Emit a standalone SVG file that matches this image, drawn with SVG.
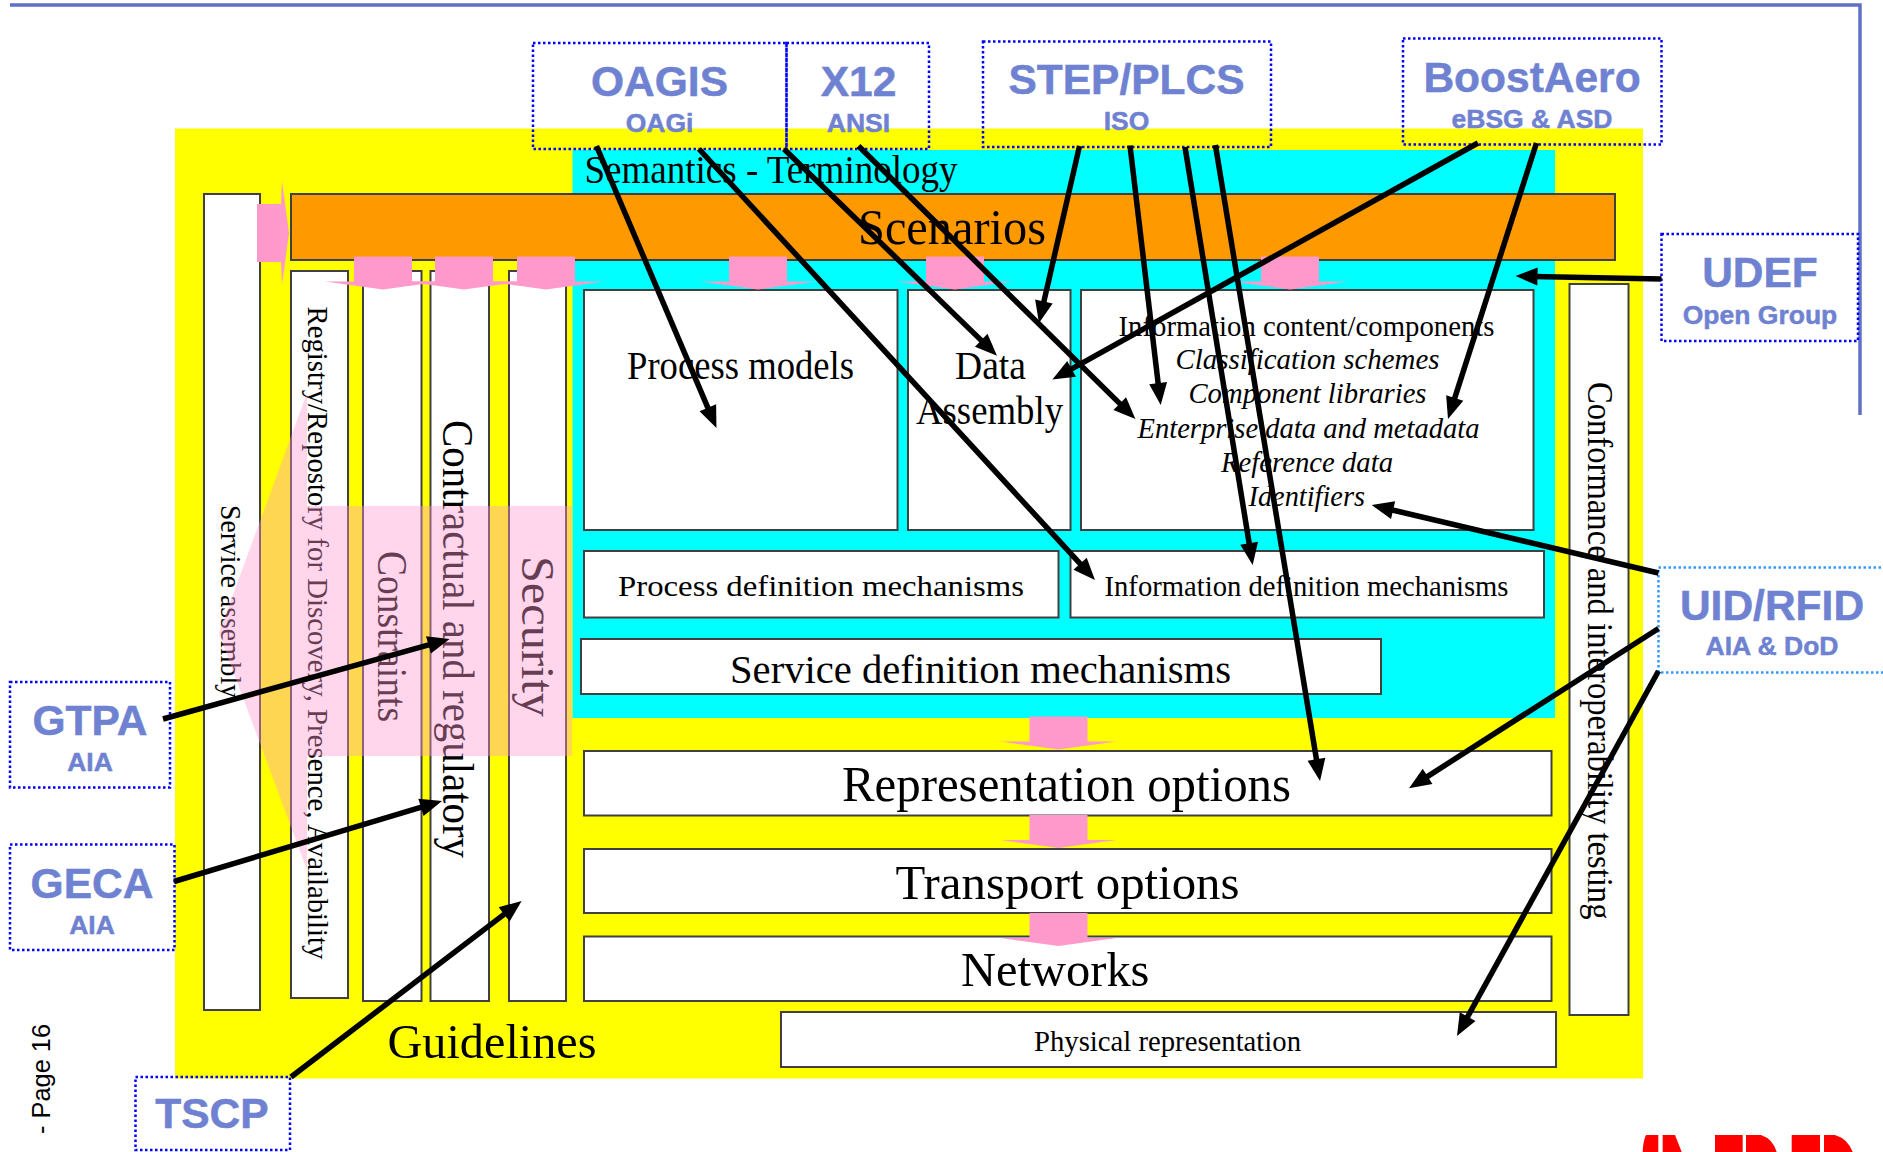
<svg xmlns="http://www.w3.org/2000/svg" width="1883" height="1152" viewBox="0 0 1883 1152">
<style>
text{font-family:"Liberation Serif","Times New Roman",serif;fill:#000}
.box{fill:#fff;stroke:#404040;stroke-width:2}
.lab rect{fill:none;stroke:#0000ff;stroke-width:2.5;stroke-dasharray:2.5 2.5}
.lab text{font-family:"Liberation Sans",Arial,sans-serif;font-weight:700;fill:#6f82d2;stroke:#6f82d2;stroke-width:.5;text-anchor:middle}
.big{font-size:42.500px}
.sub{font-size:26.500px}
.it{font-size:30px;font-style:italic}
.pink{fill:#ff99cc}
#connectors line{stroke:#000;stroke-width:5.500;marker-end:url(#ah)}
</style>
<defs>
<marker id="ah" markerUnits="userSpaceOnUse" markerWidth="26" markerHeight="22" refX="4" refY="10" orient="auto" overflow="visible"><path d="M0,1 L22,10 L0,19 Z" fill="#000"/></marker>
<polygon id="down" class="pink" points="-29,-33 29,-33 29,-8 58,-8 0,0 -58,-8 -29,-8"/>
</defs>
<rect width="1883" height="1152" fill="#fff"/>
<path id="frame" d="M10,5 H1860 V415" fill="none" stroke="#6070c4" stroke-width="3.500"/>
<rect id="guidelines-bg" x="175" y="128.500" width="1468" height="950" fill="#ffff00"/>
<rect id="semantics-bg" x="572.500" y="150" width="982.500" height="568" fill="#00ffff"/>

<g id="service-assembly"><rect class="box" x="204" y="194" width="56" height="816"/><text transform="translate(221,505) rotate(90)" font-size="29" textLength="193" lengthAdjust="spacingAndGlyphs">Service assembly</text></g>
<g id="scenarios"><rect x="291" y="194" width="1324" height="66" fill="#ff9900" stroke="#404040" stroke-width="2"/><text x="858" y="243.500" font-size="50" textLength="188" lengthAdjust="spacingAndGlyphs">Scenarios</text></g>
<g id="registry"><rect class="box" x="291" y="271" width="57" height="727"/><text transform="translate(308,306.500) rotate(90)" font-size="30" textLength="653" lengthAdjust="spacingAndGlyphs">Registry/Repostory for Discovery, Presence, Availability</text></g>
<g id="constraints"><rect class="box" x="363" y="271" width="58.500" height="730"/><text transform="translate(378,551) rotate(90)" font-size="42" textLength="171" lengthAdjust="spacingAndGlyphs">Constraints</text></g>
<g id="contractual"><rect class="box" x="430.500" y="271" width="58.500" height="730"/><text transform="translate(443,420) rotate(90)" font-size="44" textLength="438" lengthAdjust="spacingAndGlyphs">Contractual and regulatory</text></g>
<g id="security"><rect class="box" x="509" y="271" width="57" height="730"/><text transform="translate(522,556) rotate(90)" font-size="47" textLength="161" lengthAdjust="spacingAndGlyphs">Security</text></g>
<g id="semantics"><text x="584.500" y="183" font-size="39" textLength="373" lengthAdjust="spacingAndGlyphs">Semantics - Terminology</text></g>
<g id="process-models"><rect class="box" x="584" y="290" width="313.500" height="240"/><text x="627" y="379" font-size="39" textLength="227" lengthAdjust="spacingAndGlyphs">Process models</text></g>
<g id="data-assembly"><rect class="box" x="908" y="290" width="162.500" height="240"/><text x="955" y="379" font-size="39" textLength="71" lengthAdjust="spacingAndGlyphs">Data</text><text x="916" y="423.500" font-size="39" textLength="147" lengthAdjust="spacingAndGlyphs">Assembly</text></g>
<g id="information-content"><rect class="box" x="1081" y="290" width="452.500" height="240"/>
<text x="1118.500" y="335.500" font-size="30" textLength="376" lengthAdjust="spacingAndGlyphs">Information content/components</text>
<text class="it" x="1175.500" y="369" textLength="264" lengthAdjust="spacingAndGlyphs">Classification schemes</text>
<text class="it" x="1188.500" y="403" textLength="238" lengthAdjust="spacingAndGlyphs">Component libraries</text>
<text class="it" x="1137.500" y="438" textLength="342" lengthAdjust="spacingAndGlyphs">Enterprise data and metadata</text>
<text class="it" x="1221" y="472" textLength="172" lengthAdjust="spacingAndGlyphs">Reference data</text>
<text class="it" x="1248.500" y="505.500" textLength="116.500" lengthAdjust="spacingAndGlyphs">Identifiers</text></g>
<g id="process-definition"><rect class="box" x="584" y="551" width="474.500" height="66.500"/><text x="618" y="595.500" font-size="30" textLength="406" lengthAdjust="spacingAndGlyphs">Process definition mechanisms</text></g>
<g id="information-definition"><rect class="box" x="1070.500" y="551" width="473.500" height="66.500"/><text x="1104.500" y="595.500" font-size="30" textLength="404" lengthAdjust="spacingAndGlyphs">Information definition mechanisms</text></g>
<g id="service-definition"><rect class="box" x="581" y="639" width="800" height="55"/><text x="730" y="682.500" font-size="39" textLength="501" lengthAdjust="spacingAndGlyphs">Service definition mechanisms</text></g>
<g id="representation-options"><rect class="box" x="584" y="751" width="967.500" height="64.500"/><text x="842" y="801" font-size="51" textLength="449" lengthAdjust="spacingAndGlyphs">Representation options</text></g>
<g id="transport-options"><rect class="box" x="584" y="849" width="967.500" height="64"/><text x="895.500" y="898.500" font-size="49" textLength="344" lengthAdjust="spacingAndGlyphs">Transport options</text></g>
<g id="networks"><rect class="box" x="584" y="936.500" width="967.500" height="64.500"/><text x="961" y="986" font-size="49" textLength="188.500" lengthAdjust="spacingAndGlyphs">Networks</text></g>
<g id="physical-representation"><rect class="box" x="781" y="1012" width="775" height="55"/><text x="1034" y="1050.500" font-size="29" textLength="267" lengthAdjust="spacingAndGlyphs">Physical representation</text></g>
<g id="conformance"><rect class="box" x="1569.500" y="284" width="59" height="731"/><text transform="translate(1588,382) rotate(90)" font-size="36" textLength="537.500" lengthAdjust="spacingAndGlyphs">Conformance and interoperability testing</text></g>
<text id="guidelines" x="387.500" y="1058" font-size="48" textLength="209" lengthAdjust="spacingAndGlyphs">Guidelines</text>

<g id="flow-arrows">
<polygon class="pink" points="257,204 281,204 282,181 289,233 282,285 281,262 257,262"/>
<use href="#down" x="383" y="289.500"/><use href="#down" x="464" y="289.500"/><use href="#down" x="546" y="289.500"/>
<use href="#down" x="758" y="289.500"/><use href="#down" x="955" y="289.500"/><use href="#down" x="1290" y="289.500"/>
<use href="#down" x="1058.500" y="749.500"/><use href="#down" x="1058.500" y="848"/><use href="#down" x="1058.500" y="946"/>
</g>
<polygon id="security-overlay" points="219,633 307,393 307,506 572,506 572,756 307,756 307,870" fill="#ff99cc" fill-opacity="0.4"/>

<g id="oagis" class="lab"><rect x="533" y="43" width="253.500" height="106"/><text class="big" x="659.500" y="96">OAGIS</text><text class="sub" x="659.500" y="131.500">OAGi</text></g>
<g id="x12" class="lab"><rect x="786.500" y="43" width="142.500" height="106"/><text class="big" x="858.500" y="96">X12</text><text class="sub" x="858.500" y="131.500">ANSI</text></g>
<g id="step-plcs" class="lab"><rect x="983" y="41.500" width="288" height="105.500"/><text class="big" x="1126.500" y="93.500">STEP/PLCS</text><text class="sub" x="1126.500" y="129.500">ISO</text></g>
<g id="boostaero" class="lab"><rect x="1403" y="38.500" width="258.500" height="106"/><text class="big" x="1532" y="91.500">BoostAero</text><text class="sub" x="1532" y="127.500">eBSG &amp; ASD</text></g>
<g id="udef" class="lab"><rect x="1661.500" y="234" width="196.500" height="107"/><text class="big" x="1760" y="287">UDEF</text><text class="sub" x="1760" y="324">Open Group</text></g>
<g id="uid-rfid" class="lab"><rect x="1658.500" y="567.500" width="240" height="105" style="stroke:#3399ff"/><text class="big" x="1772" y="619.500">UID/RFID</text><text class="sub" x="1772" y="655">AIA &amp; DoD</text></g>
<g id="gtpa" class="lab"><rect x="10" y="682" width="160" height="105.500"/><text class="big" x="90" y="734.500">GTPA</text><text class="sub" x="90" y="770.500">AIA</text></g>
<g id="geca" class="lab"><rect x="10" y="844.500" width="164.500" height="105.500"/><text class="big" x="92" y="898">GECA</text><text class="sub" x="92" y="934">AIA</text></g>
<g id="tscp" class="lab"><rect x="135.500" y="1077" width="154.500" height="73"/><text class="big" x="212" y="1128">TSCP</text></g>

<g id="connectors">
<line x1="596.500" y1="146" x2="709.400" y2="411.400"/>
<line x1="699" y1="149" x2="1082.800" y2="566.700"/>
<line x1="784" y1="149" x2="984.100" y2="343.100"/>
<line x1="858.500" y1="146" x2="1122.600" y2="406.400"/>
<line x1="1079.500" y1="146" x2="1043" y2="305.500"/>
<line x1="1130" y1="145.500" x2="1158.600" y2="387.100"/>
<line x1="1185" y1="147" x2="1249.800" y2="547.200"/>
<line x1="1215.400" y1="145" x2="1317.100" y2="763.200"/>
<line x1="1478" y1="143" x2="1068.100" y2="370.800"/>
<line x1="1536.500" y1="143" x2="1453.500" y2="401.900"/>
<line x1="1661.500" y1="279" x2="1533.500" y2="276.400"/>
<line x1="1658.500" y1="573" x2="1389.200" y2="509.200"/>
<line x1="1658.500" y1="628.500" x2="1424.200" y2="778.600"/>
<line x1="1658.500" y1="671" x2="1465.700" y2="1020.200"/>
<line x1="163" y1="719" x2="432.300" y2="643.800"/>
<line x1="174" y1="881.500" x2="424.800" y2="806.200"/>
<line x1="291" y1="1077" x2="507.300" y2="911.900"/>
</g>

<text id="page" transform="translate(49.500,1134) rotate(-90)" style="font-family:'Liberation Sans',Arial,sans-serif" font-size="26" fill="#333" textLength="110" lengthAdjust="spacingAndGlyphs">- Page 16</text>
<path id="logo" fill="#ff0000" d="M1642.700,1152 Q1643,1141 1646,1135 H1658.300 V1152 Z M1662.700,1135 H1675 L1681.700,1152 H1662.700 Z M1715,1135 H1742.700 V1152 H1715 Z M1746,1135 H1761 Q1773,1139 1776.700,1152 H1746 Z M1791.700,1135 H1820 V1152 H1791.700 Z M1824,1135 H1835 Q1848,1139 1852.700,1152 H1824 Z"/>
</svg>
